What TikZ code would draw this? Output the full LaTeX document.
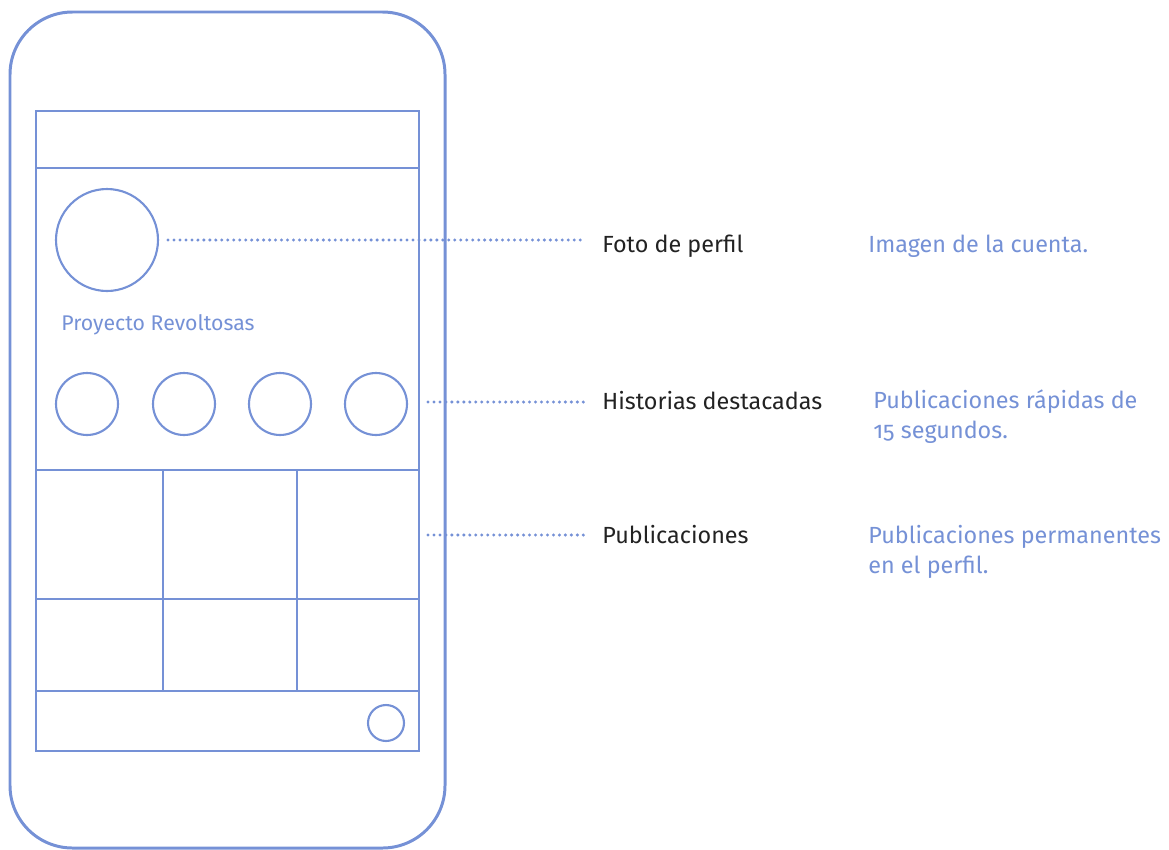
\documentclass[tikz,border=0pt]{standalone}
\usepackage{fontspec}
\setmainfont{Fira Sans}[Numbers=OldStyle]
\definecolor{phoneblue}{RGB}{117,145,214}
\definecolor{inkgray}{RGB}{34,34,34}
\tikzset{
  screenline/.style={phoneblue, line width=1.5pt},
  ring/.style={circle, draw=phoneblue, line width=1.2pt, inner sep=0pt},
  guide/.style={phoneblue, line width=1.9pt, line cap=round, dash pattern=on 0pt off 3.4pt},
  itemtext/.style={inkgray, inner sep=0pt, anchor=base west, font=\fontsize{13.3}{17}\selectfont},
  notetext/.style={phoneblue, inner sep=0pt, anchor=base west, align=left, font=\fontsize{13.3}{17}\selectfont}
}
\begin{document}
\begin{tikzpicture}[x=0.02cm, y=-0.02cm]
    \useasboundingbox (0,0) rectangle (1169,849);
    % phone body and screen
    \draw[phoneblue, line width=1.7pt, rounded corners=1.25cm] (10,12) rectangle (445,848);
    \draw[screenline] (36,111) rectangle (419,751);
    \draw[screenline] (36,168) -- (419,168);
    \draw[screenline] (36,470) -- (419,470);
    \draw[screenline] (36,599) -- (419,599);
    \draw[screenline] (36,691) -- (419,691);
    \draw[screenline] (163,470) -- (163,691);
    \draw[screenline] (297,470) -- (297,691);

    \node[ring, minimum size=2.04cm] (foto) at (107,240) {};
    \foreach \i/\x in {1/87, 2/184, 3/280, 4/376}
        \node[ring, minimum size=1.24cm] (hist\i) at (\x,404) {};
    \node[ring, minimum size=0.72cm] (boton) at (386,723) {};
    \node[notetext, font=\fontsize{12.1}{17}\selectfont] (cuenta) at (61,330) {Proyecto Revoltosas};

    % labels
    \node[itemtext] (lfoto) at (602,252) {Foto de perfil};
    \node[itemtext] (lhist) at (602,409) {Historias destacadas};
    \node[itemtext] (lpub) at (602,543) {Publicaciones};

    % base of a two-line note sits on its last line
    \node[notetext] (nfoto) at (868,252) {Imagen de la cuenta.};
    \node[notetext] (nhist) at (873,438) {Publicaciones rápidas de\\15 segundos.};
    \node[notetext] (npub) at (868,573) {Publicaciones permanentes\\en el perfil.};

    \coordinate (hstart) at (428,402);
    \coordinate (pstart) at (428,535);
    \draw[guide] ([xshift=0.18cm]foto.east) -- ([xshift=-0.34cm]lfoto.west |- foto.east);
    \draw[guide] (hstart) -- ([xshift=-0.34cm]lhist.west |- hstart);
    \draw[guide] (pstart) -- ([xshift=-0.34cm]lpub.west |- pstart);
\end{tikzpicture}
\end{document}
